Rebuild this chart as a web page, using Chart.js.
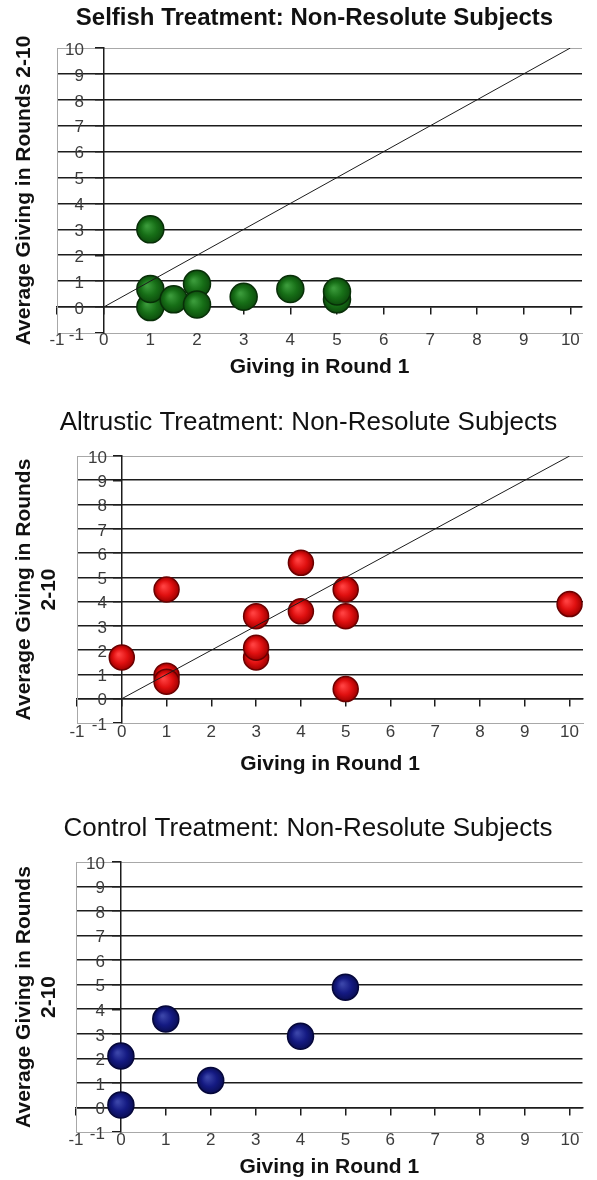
<!DOCTYPE html>
<html>
<head>
<meta charset="utf-8">
<title>Non-Resolute Subjects: giving in round 1 vs rounds 2-10</title>
<script src="https://cdn.jsdelivr.net/npm/chart.js@4.4.1/dist/chart.umd.min.js"></script>
<style>
  html, body { margin: 0; padding: 0; background: #fff; }
  body { width: 597px; height: 1180px; position: relative; overflow: hidden; }
  canvas { position: absolute; left: 0; }
</style>
</head>
<body>
<canvas id="selfishChart" width="597" height="385" style="top:0px"></canvas>
<canvas id="altruisticChart" width="597" height="395" style="top:390px"></canvas>
<canvas id="controlChart" width="597" height="390" style="top:790px"></canvas>
<script>
// Axis ticks shared by all three panels
const xTicks = [-1, 0, 1, 2, 3, 4, 5, 6, 7, 8, 9, 10];
const yTicks = [-1, 0, 1, 2, 3, 4, 5, 6, 7, 8, 9, 10];
// 45-degree reference line (y = x) endpoints
const diagonal = [0, 10];

// Selfish treatment
const selfishRound1 = [1, 1, 1, 1.5, 2, 2, 3, 4, 5, 5];
const selfishLater = [3, 0, 0.7, 0.3, 0.9, 0.1, 0.4, 0.7, 0.3, 0.6];

// Altruistic treatment
const altruisticRound1 = [0, 1, 1, 1, 3, 3, 3, 4, 4, 5, 5, 5, 10];
const altruisticLater = [1.7, 4.5, 0.95, 0.7, 3.4, 1.7, 2.1, 5.6, 3.6, 4.5, 3.4, 0.4, 3.9];

// Control treatment
const controlRound1 = [0, 0, 1, 2, 4, 5];
const controlLater = [2.1, 0.1, 3.6, 1.1, 2.9, 4.9];

window.addEventListener("DOMContentLoaded", () => {
  if (typeof Chart === "undefined") {
    return;
  }

  const family = "'Liberation Sans', Arial, sans-serif";
  const ink = "#111111";
  const gridInk = "#1c1c1c";
  const frame = "#a8a8a8";
  const tickInk = "#3c3c3c";
  const clear = "rgba(0,0,0,0)";

  Chart.defaults.font.family = family;

  const pairs = (xs, ys) => xs.map((x, i) => ({ x, y: ys[i] }));
  const useTicks = (list) => (scale) => {
    scale.ticks = list.map((value) => ({ value }));
  };

  const panels = [
    {
      id: "selfishChart",
      title: "Selfish Treatment: Non-Resolute Subjects",
      titleWeight: "bold", titleSize: 24, titleTop: 3.6,
      yTitle: "Average Giving in Rounds 2-10",
      padLeft: 32, yTitleTop: -20.6, xTitleBottom: 5.4,
      yTickPad: 8, xTickPad: -3, xMax: 10.25,
      area: { left: 57, top: 48, bottom: 333 },
      xs: selfishRound1, ys: selfishLater,
      fill: ["#3a9a3a", "#176f17", "#0d4d0d"], edge: "#082f08", radius: 13.5,
      diagonal: true
    },
    {
      id: "altruisticChart",
      title: "Altrustic Treatment: Non-Resolute Subjects",
      titleWeight: "normal", titleSize: 26, titleTop: 17.4,
      yTitle: ["Average Giving in Rounds", "2-10"],
      padLeft: 20, yTitleTop: -8.8, xTitleBottom: 8.4,
      yTickPad: 11, xTickPad: -1, xMax: 10.3,
      area: { left: 77, top: 66, bottom: 333 },
      xs: altruisticRound1, ys: altruisticLater,
      fill: ["#ff4040", "#e01010", "#a00000"], edge: "#6a0000", radius: 12.5,
      diagonal: true
    },
    {
      id: "controlChart",
      title: "Control Treatment: Non-Resolute Subjects",
      titleWeight: "normal", titleSize: 26, titleTop: 23.4,
      yTitle: ["Average Giving in Rounds", "2-10"],
      padLeft: 19, yTitleTop: -7.8, xTitleBottom: 0.4,
      yTickPad: 10, xTickPad: -2, xMax: 10.28,
      area: { left: 76, top: 72, bottom: 342 },
      xs: controlRound1, ys: controlLater,
      fill: ["#3a44a8", "#141a82", "#0a0e55"], edge: "#05073a", radius: 13,
      diagonal: false
    }
  ];

  // soft ball shading, centred on each point through the chart's own scales
  const ballFill = (p) => (c) => {
    if (c.type !== "data" || !c.parsed || !c.chart.scales.x) {
      return p.fill[1];
    }
    const cx = c.chart.scales.x.getPixelForValue(c.parsed.x);
    const cy = c.chart.scales.y.getPixelForValue(c.parsed.y);
    if (!isFinite(cx) || !isFinite(cy)) {
      return p.fill[1];
    }
    const r = p.radius;
    const g = c.chart.ctx.createRadialGradient(cx - r * 0.25, cy - r * 0.25, 1, cx, cy, r);
    g.addColorStop(0, p.fill[0]);
    g.addColorStop(0.55, p.fill[1]);
    g.addColorStop(1, p.fill[2]);
    return g;
  };

  const buildConfig = (p, fix) => {
    const datasets = [];
    if (p.diagonal) {
      datasets.push({
        label: "y = x",
        data: diagonal.map((v) => ({ x: v, y: v })),
        showLine: true,
        borderColor: gridInk,
        borderWidth: 1,
        pointRadius: 0,
        pointHoverRadius: 0,
        fill: false
      });
    }
    datasets.push({
      label: "subjects",
      data: pairs(p.xs, p.ys),
      pointRadius: p.radius,
      pointHoverRadius: p.radius,
      backgroundColor: ballFill(p),
      borderColor: p.edge,
      borderWidth: 1.5
    });

    return {
      type: "scatter",
      data: { datasets },
      options: {
        responsive: false,
        animation: false,
        events: [],
        layout: { padding: { left: p.padLeft, right: 0, top: 0, bottom: 0 } },
        plugins: {
          legend: { display: false },
          tooltip: { enabled: false },
          title: {
            display: true,
            text: p.title,
            color: ink,
            font: { family, size: p.titleSize, weight: p.titleWeight, lineHeight: 1.2 },
            padding: { top: p.titleTop, bottom: 10 + fix.top }
          }
        },
        scales: {
          x: {
            type: "linear",
            position: "bottom",
            min: -1,
            max: p.xMax,
            afterBuildTicks: useTicks(xTicks),
            grid: {
              drawTicks: false,
              lineWidth: 1,
              color: (c) => (c.tick && c.tick.value === -1 ? frame : clear)
            },
            border: { color: frame, width: 1 },
            ticks: {
              padding: p.xTickPad,
              color: tickInk,
              font: { family, size: 17 },
              maxRotation: 0,
              autoSkip: false
            },
            title: {
              display: true,
              text: "Giving in Round 1",
              color: ink,
              font: { family, size: 21, weight: "bold", lineHeight: 1.2 },
              padding: { top: 4 + fix.bottom, bottom: p.xTitleBottom }
            }
          },
          x2: {
            type: "linear",
            axis: "x",
            position: { y: 0 },
            min: -1,
            max: p.xMax,
            afterBuildTicks: useTicks(xTicks),
            grid: { drawOnChartArea: false, drawTicks: true, tickLength: 7, color: gridInk, lineWidth: 1.5 },
            border: { color: gridInk, width: 1.5 },
            ticks: { display: false }
          },
          y: {
            type: "linear",
            position: "left",
            min: -1,
            max: 10,
            afterBuildTicks: useTicks(yTicks),
            grid: {
              drawTicks: false,
              lineWidth: (c) => (c.tick && (c.tick.value === 10 || c.tick.value === -1) ? 1 : 1.6),
              color: (c) => (c.tick && (c.tick.value === 10 || c.tick.value === -1) ? frame : gridInk)
            },
            border: { color: frame, width: 1 },
            ticks: {
              mirror: true,
              crossAlign: "far",
              padding: p.yTickPad,
              labelOffset: 2,
              color: tickInk,
              font: { family, size: 17 }
            },
            title: {
              display: true,
              text: p.yTitle,
              color: ink,
              font: { family, size: 21, weight: "bold", lineHeight: 1.22 },
              padding: { top: p.yTitleTop, bottom: 4 + fix.left }
            }
          },
          y2: {
            type: "linear",
            axis: "y",
            position: { x: 0 },
            min: -1,
            max: 10,
            afterBuildTicks: useTicks(yTicks),
            grid: { drawOnChartArea: false, drawTicks: true, tickLength: 8, color: gridInk, lineWidth: 1.5 },
            border: { color: gridInk, width: 1.5 },
            ticks: { display: false }
          }
        }
      }
    };
  };

  // Lay each panel out once, then nudge the title paddings so the plot
  // area lands where the original figure had it.
  panels.forEach((p) => {
    const canvas = document.getElementById(p.id);
    let chart = new Chart(canvas, buildConfig(p, { top: 0, left: 0, bottom: 0 }));
    const a = chart.chartArea;
    const fix = {
      top: p.area.top - a.top,
      left: p.area.left - a.left,
      bottom: a.bottom - p.area.bottom
    };
    chart.destroy();
    chart = new Chart(canvas, buildConfig(p, fix));
  });
});
</script>
</body>
</html>
